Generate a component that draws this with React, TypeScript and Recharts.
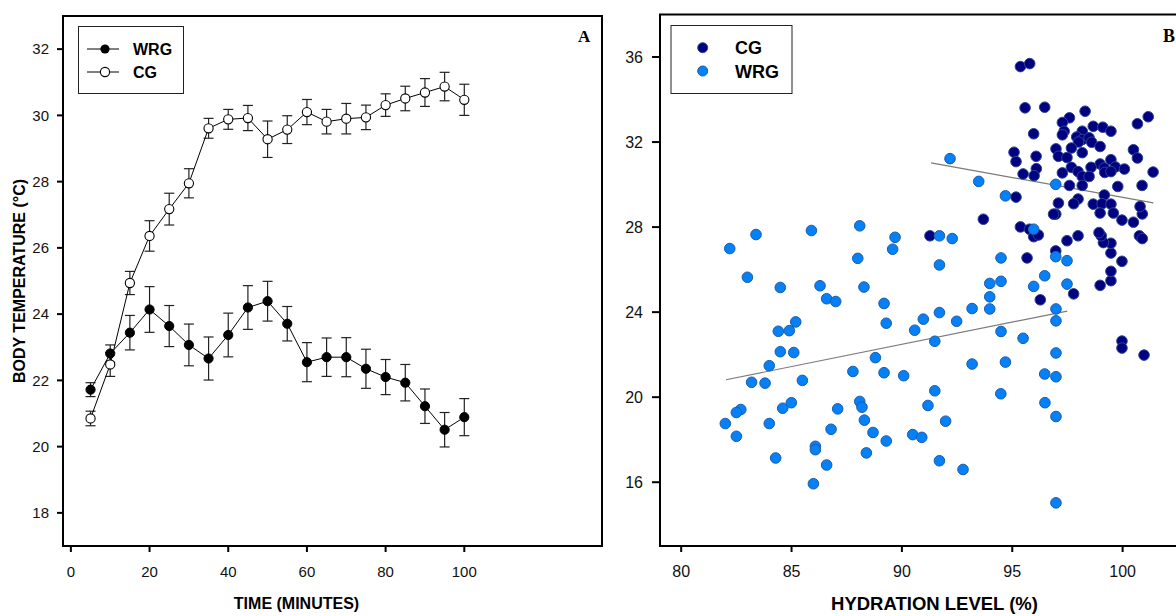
import {
  LineChart, Line, ErrorBar, ScatterChart, Scatter, XAxis, YAxis, ReferenceArea, ReferenceLine, Label,
} from 'recharts';

// Panel A: body temperature over time (mean ± SE)
const minutes = [5, 10, 15, 20, 25, 30, 35, 40, 45, 50, 55, 60, 65, 70, 75, 80, 85, 90, 95, 100];
const wrgMean = [21.72, 22.81, 23.44, 24.14, 23.64, 23.07, 22.66, 23.37, 24.2, 24.39, 23.71, 22.55, 22.7, 22.7, 22.35, 22.1, 21.93, 21.22, 20.51, 20.89];
const wrgSe = [0.21, 0.26, 0.52, 0.69, 0.62, 0.63, 0.65, 0.66, 0.66, 0.6, 0.52, 0.59, 0.58, 0.59, 0.59, 0.53, 0.55, 0.52, 0.52, 0.56];
const cgMean = [20.85, 22.48, 24.94, 26.36, 27.17, 27.95, 29.61, 29.88, 29.92, 29.28, 29.57, 30.1, 29.81, 29.9, 29.94, 30.31, 30.51, 30.69, 30.87, 30.47];
const cgSe = [0.22, 0.36, 0.35, 0.46, 0.48, 0.44, 0.3, 0.3, 0.38, 0.55, 0.42, 0.38, 0.37, 0.46, 0.37, 0.34, 0.37, 0.42, 0.43, 0.47];
const timeTicks = [0, 20, 40, 60, 80, 100];
const tempTicksA = [18, 20, 22, 24, 26, 28, 30, 32];

// Panel B: hydration level vs body temperature
const cgHydration = [
  95.37, 95.79, 95.58, 96.47, 98.3, 97.59, 97.27, 95.97, 97.35, 97.27, 98.67, 99.1, 99.47, 100.67, 101.16, 98.17,
  97.92, 98.17, 98.48, 98.6, 98.0, 98.98, 97.68, 98.17, 96.98, 97.09, 97.48, 95.08, 96.08, 95.17, 100.49, 100.67,
  99.47, 98.98, 99.17, 99.67, 100.08, 98.57, 97.68, 97.98, 98.17, 98.48, 99.19, 99.47, 97.27, 96.09, 95.99, 95.49,
  97.59, 98.17, 99.78, 100.88, 101.38, 95.17, 97.98, 99.17, 91.27, 93.69, 95.37, 95.78, 95.97, 96.18, 96.97, 95.67,
  97.48, 97.98, 97.78, 96.27, 98.98, 99.47, 99.47, 99.97, 99.47, 99.47, 99.13, 99.03, 98.93, 99.97, 99.97, 100.97,
  100.76, 100.89, 96.97, 96.87, 97.09, 97.78, 98.67, 99.07, 99.47, 98.98, 99.58, 99.97, 100.49, 100.89, 100.79,
];
const cgTemp = [
  35.55, 35.69, 33.61, 33.64, 33.45, 33.14, 32.92, 32.39, 32.51, 32.34, 32.74, 32.7, 32.51, 32.86, 33.19, 32.51,
  32.24, 32.12, 32.2, 31.99, 32.0, 31.79, 31.72, 31.5, 31.68, 31.33, 31.27, 31.52, 31.33, 31.08, 31.64, 31.25,
  31.17, 30.97, 30.78, 30.83, 30.73, 30.81, 30.81, 30.61, 30.38, 30.38, 30.57, 30.61, 30.55, 30.75, 30.42, 30.5,
  29.96, 29.96, 29.91, 29.96, 30.59, 29.41, 29.32, 29.51, 27.59, 28.37, 28.01, 27.9, 27.55, 27.63, 26.88, 26.55,
  27.36, 27.59, 24.86, 24.58, 25.26, 25.48, 25.92, 26.39, 26.78, 27.24, 27.27, 27.59, 27.74, 22.64, 22.31, 21.98,
  27.59, 27.46, 28.61, 28.61, 29.13, 29.1, 29.08, 29.1, 29.08, 28.66, 28.66, 28.33, 28.23, 28.62, 28.97,
];
const wrgHydration = [
  83.39, 82.2, 85.9, 88.09, 89.69, 89.58, 88.0, 83.0, 84.49, 86.29, 88.28, 86.59, 87.0, 89.19, 89.29, 85.19,
  84.4, 84.9, 90.58, 90.97, 92.48, 84.49, 85.1, 83.99, 83.19, 83.8, 85.49, 87.78, 88.8, 89.19, 90.08, 91.49,
  91.49, 91.18, 91.98, 91.7, 92.77, 82.7, 82.5, 82.0, 82.5, 83.99, 84.6, 84.99, 84.28, 87.09, 86.79, 86.08,
  86.08, 86.59, 85.99, 88.09, 88.19, 88.3, 88.69, 88.39, 89.29, 90.49, 90.9, 94.48, 96.48, 96.98, 96.98, 91.7,
  92.28, 91.7, 94.49, 95.97, 96.97, 97.48, 96.47, 95.97, 97.48, 93.98, 94.49, 93.98, 93.98, 93.18, 91.7, 94.49,
  95.49, 96.98, 96.98, 96.98, 93.18, 94.69, 96.47, 96.98, 92.18, 93.48, 94.69, 96.97,
];
const wrgTemp = [
  27.65, 26.99, 27.84, 28.06, 27.52, 26.96, 26.53, 25.64, 25.16, 25.24, 25.18, 24.63, 24.5, 24.41, 23.48, 23.54,
  23.1, 23.13, 23.15, 23.67, 23.57, 22.14, 22.1, 21.48, 20.7, 20.66, 20.79, 21.21, 21.86, 21.15, 21.01, 22.63,
  20.3, 19.61, 18.87, 17.01, 16.6, 19.42, 19.28, 18.76, 18.16, 18.76, 19.48, 19.74, 17.14, 19.45, 18.49, 17.69,
  17.53, 16.81, 15.93, 19.8, 19.53, 18.92, 18.34, 17.38, 17.94, 18.24, 18.11, 20.16, 19.74, 19.09, 15.03, 27.59,
  27.46, 26.22, 26.55, 27.9, 26.61, 26.42, 25.71, 25.21, 25.32, 25.35, 25.45, 24.72, 24.15, 24.17, 23.98, 23.09,
  22.77, 24.15, 23.59, 22.08, 21.56, 21.65, 21.09, 20.96, 31.22, 30.15, 29.47, 30.01,
];
// fitted regression line end points (hydration, temperature)
const cgFit = [[91.32, 31.02], [101.39, 29.14]];
const wrgFit = [[82.03, 20.82], [97.49, 24.05]];
const hydrationTicks = [80, 85, 90, 95, 100];
const tempTicksB = [16, 20, 24, 28, 32, 36];

const sans = '"Liberation Sans", Arial, sans-serif';
const CG_FILL = '#000080';
const WRG_FILL = '#0480f8';

const timeData = minutes.map((t, i) => ({
  t, wrg: wrgMean[i], wrgSe: wrgSe[i], cg: cgMean[i], cgSe: cgSe[i],
}));
const cgPoints = cgHydration.map((h, i) => ({ h, temp: cgTemp[i] }));
const wrgPoints = wrgHydration.map((h, i) => ({ h, temp: wrgTemp[i] }));

const tickA = { fontSize: 15, fill: '#111', fontFamily: sans };
const tickB = { fontSize: 16, fill: '#111', fontFamily: sans };
const axisLine = { stroke: '#000', strokeWidth: 2 };

function dotShape(fill: string, stroke: string) {
  return (p: any) => <circle cx={p.cx} cy={p.cy} r={5.3} fill={fill} stroke={stroke} strokeWidth={1} />;
}

function TemperaturePanel() {
  return (
    <LineChart width={610} height={616} data={timeData} margin={{ top: 16, right: 8, bottom: 30, left: 0 }}>
      <XAxis
        type="number" dataKey="t" domain={[-2, 135]} ticks={timeTicks} allowDataOverflow
        height={40} tickSize={6} tickMargin={14} tick={tickA} axisLine={axisLine} tickLine={axisLine}
      >
        <Label value="TIME (MINUTES)" position="bottom" offset={12} dx={-36}
          style={{ fontSize: 16, fontWeight: 700, fill: '#000', fontFamily: sans }} />
      </XAxis>
      <YAxis
        type="number" domain={[17, 33]} ticks={tempTicksA} allowDataOverflow
        width={63} tickSize={6} tickMargin={8} tick={tickA} axisLine={axisLine} tickLine={axisLine}
      >
        <Label value="BODY TEMPERATURE (°C)" angle={-90} position="insideLeft" offset={19}
          style={{ fontSize: 16, fontWeight: 700, fill: '#000', fontFamily: sans, textAnchor: 'middle' }} />
      </YAxis>
      <ReferenceArea x1={-2} x2={135} y1={17} y2={33} fill="none" fillOpacity={0} stroke="#000" strokeWidth={2} />
      <Line dataKey="wrg" stroke="#000" strokeWidth={1} isAnimationActive={false} activeDot={false}
        dot={{ r: 4.6, fill: '#000', stroke: '#000', strokeWidth: 1 }}>
        <ErrorBar dataKey="wrgSe" direction="y" width={5} stroke="#222" strokeWidth={1.2} />
      </Line>
      <Line dataKey="cg" stroke="#000" strokeWidth={1} isAnimationActive={false} activeDot={false}
        dot={{ r: 4.6, fill: '#fff', stroke: '#000', strokeWidth: 1.1 }}>
        <ErrorBar dataKey="cgSe" direction="y" width={5} stroke="#222" strokeWidth={1.2} />
      </Line>
    </LineChart>
  );
}

function HydrationPanel() {
  return (
    <ScatterChart width={610} height={616} margin={{ top: 14.5, right: 11, bottom: 30, left: 0 }}>
      <XAxis
        type="number" dataKey="h" domain={[79.04, 103.46]} ticks={hydrationTicks} allowDataOverflow
        height={40} tickSize={6} tickMargin={14} tick={tickB} axisLine={axisLine} tickLine={axisLine}
      >
        <Label value="HYDRATION LEVEL (%)" position="bottom" offset={11} dx={5}
          style={{ fontSize: 18.5, fontWeight: 700, fill: '#000', fontFamily: sans }} />
      </XAxis>
      <YAxis
        type="number" dataKey="temp" domain={[13, 38]} ticks={tempTicksB} allowDataOverflow
        width={60} tickSize={8} tickMargin={9} tick={tickB} axisLine={axisLine} tickLine={axisLine}
      />
      <ReferenceArea x1={79.04} x2={103.46} y1={13} y2={38} fill="none" fillOpacity={0} stroke="#000" strokeWidth={2} />
      <Scatter name="CG" data={cgPoints} isAnimationActive={false} shape={dotShape(CG_FILL, '#2a4590')} />
      <Scatter name="WRG" data={wrgPoints} isAnimationActive={false} shape={dotShape(WRG_FILL, '#1d5ca6')} />
      <ReferenceLine segment={[{ x: cgFit[0][0], y: cgFit[0][1] }, { x: cgFit[1][0], y: cgFit[1][1] }]}
        stroke="#7a7a7a" strokeWidth={1.2} />
      <ReferenceLine segment={[{ x: wrgFit[0][0], y: wrgFit[0][1] }, { x: wrgFit[1][0], y: wrgFit[1][1] }]}
        stroke="#7a7a7a" strokeWidth={1.2} />
    </ScatterChart>
  );
}

function Overlay() {
  const bold = { fontFamily: sans, fontWeight: 700 };
  return (
    <svg width={1176} height={616} style={{ position: 'absolute', left: 0, top: 0, pointerEvents: 'none' }}>
      {/* legend A */}
      <rect x={78.5} y={26.5} width={105} height={67} fill="#fff" stroke="#222" strokeWidth={1} />
      <line x1={87} y1={49} x2={119} y2={49} stroke="#000" strokeWidth={1} />
      <circle cx={105} cy={49} r={4.6} fill="#000" />
      <text x={133} y={54.5} fontSize={16} {...bold}>WRG</text>
      <line x1={87} y1={72} x2={119} y2={72} stroke="#000" strokeWidth={1} />
      <circle cx={105} cy={72} r={4.6} fill="#fff" stroke="#000" strokeWidth={1.1} />
      <text x={133} y={77.5} fontSize={16} {...bold}>CG</text>
      <text x={578} y={41.7} fontSize={17} fontFamily='"Liberation Serif", serif' fontWeight={700}>A</text>
      {/* legend B */}
      <rect x={671} y={25.5} width={121} height={68} fill="#fff" stroke="#222" strokeWidth={1} />
      <circle cx={702.7} cy={47.7} r={5} fill={CG_FILL} stroke="#2a4590" />
      <text x={735} y={54.3} fontSize={18} {...bold}>CG</text>
      <circle cx={702.7} cy={71} r={5} fill={WRG_FILL} stroke="#1d5ca6" />
      <text x={735} y={78.3} fontSize={18} {...bold}>WRG</text>
      <text x={1163} y={42} fontSize={18} fontFamily='"Liberation Serif", serif' fontWeight={700}>B</text>
    </svg>
  );
}

export default function App() {
  return (
    <div style={{ position: 'absolute', left: 0, top: 0, width: 1176, height: 616, overflow: 'hidden', background: '#fff' }}>
      <div style={{ position: 'absolute', left: 0, top: 0 }}>
        <TemperaturePanel />
      </div>
      <div style={{ position: 'absolute', left: 600, top: 0 }}>
        <HydrationPanel />
      </div>
      <Overlay />
    </div>
  );
}
